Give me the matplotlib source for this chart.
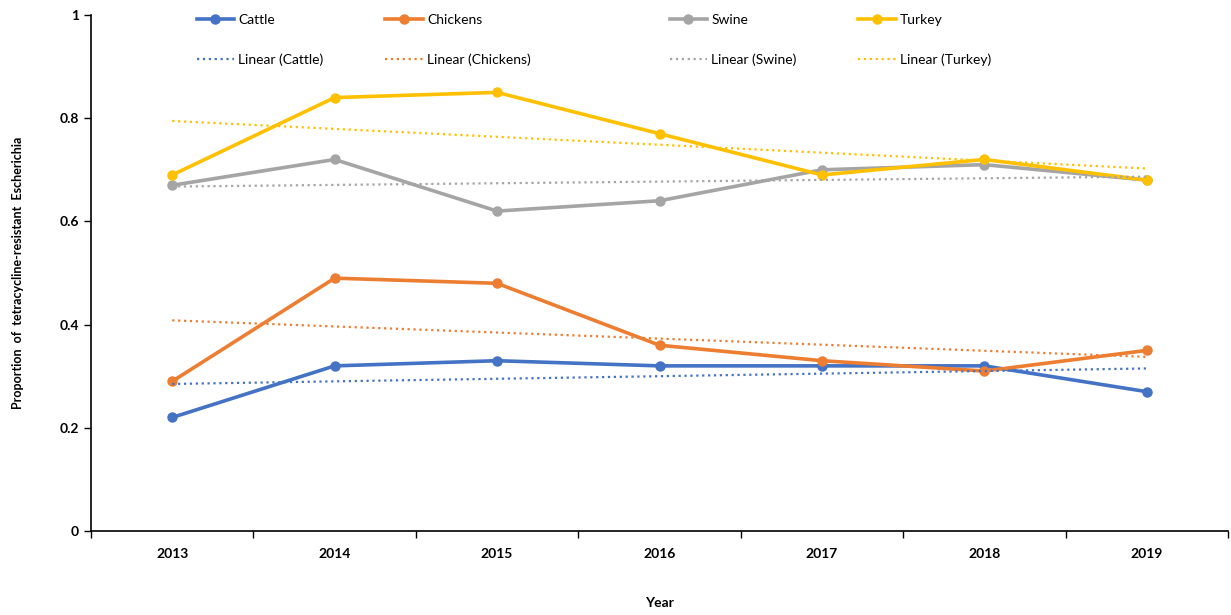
import matplotlib.pyplot as plt
from matplotlib.legend import Legend
import numpy as np

# Data
years = ['2013', '2014', '2015', '2016', '2017', '2018', '2019']
cattle = [0.22, 0.32, 0.33, 0.32, 0.32, 0.32, 0.27]
chickens = [0.29, 0.49, 0.48, 0.36, 0.33, 0.31, 0.35]
swine = [0.67, 0.72, 0.62, 0.64, 0.70, 0.71, 0.68]
turkey = [0.69, 0.84, 0.85, 0.77, 0.69, 0.72, 0.68]

series = [('Cattle', cattle, '#4472C4'),
          ('Chickens', chickens, '#ED7D31'),
          ('Swine', swine, '#A5A5A5'),
          ('Turkey', turkey, '#FFC000')]

# where each legend column starts (axes fraction)
legend_x = [0.093, 0.259, 0.509, 0.675]

plt.rcParams['font.family'] = ['Lato', 'DejaVu Sans']

fig = plt.figure(figsize=(12.31, 6.15), dpi=100)
ax = fig.add_axes([0.0739, 0.1366, 0.9237, 0.839])

x = np.arange(len(years))
pairs = []
for name, vals, color in series:
    line, = ax.plot(x, vals, '-o', color=color, lw=2.6, ms=6.5, label=name, zorder=3)
    # linear trendline, like Excel's
    k, b = np.polyfit(x, vals, 1)
    trend, = ax.plot(x, k * x + b, ':', color=color, lw=1.6, label=f'Linear ({name})', zorder=4)
    pairs.append([line, trend])

ax.set_xlim(-0.5, len(years) - 0.5)
ax.set_ylim(0, 1)
ax.set_yticks([0, 0.2, 0.4, 0.6, 0.8, 1])
ax.set_yticklabels(['0', '0.2', '0.4', '0.6', '0.8', '1'])
ax.set_xticks(x)
ax.set_xticklabels(years)
ax.set_xticks(np.arange(-0.5, len(years)), minor=True)
ax.tick_params(axis='x', which='major', length=0, pad=12)
ax.tick_params(axis='x', which='minor', length=5, width=1)
ax.tick_params(axis='y', length=5, width=1)
for lab in ax.get_xticklabels() + ax.get_yticklabels():
    lab.set_fontsize(10)
    lab.set_fontweight('bold')

ax.spines['top'].set_visible(False)
ax.spines['right'].set_visible(False)
ax.spines['left'].set_linewidth(1.2)
ax.spines['bottom'].set_linewidth(1.2)

ax.set_xlabel('Year', fontsize=10, fontweight='bold', labelpad=27)
ax.set_ylabel('Proportion  of  tetracycline-resistant  Escherichia', fontsize=9,
              fontweight='bold', labelpad=26)

# one small legend per column, Excel spaces them unevenly
for lx, hs in zip(legend_x, pairs):
    leg = Legend(ax, hs, [h.get_label() for h in hs], loc='upper left',
                 bbox_to_anchor=(lx, 1.002), frameon=False, fontsize=10,
                 handlelength=2.7, labelspacing=1.95, handletextpad=0.3,
                 borderpad=0, borderaxespad=0)
    ax.add_artist(leg)

fig.savefig('out.png', dpi=100)
